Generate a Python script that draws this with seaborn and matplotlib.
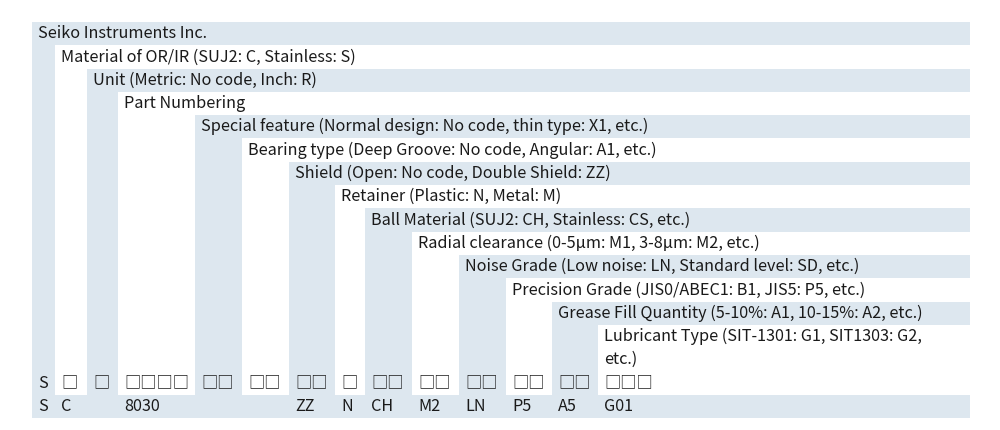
import numpy as np
import matplotlib
matplotlib.use("Agg")
import matplotlib.pyplot as plt
import seaborn as sns

# column boundaries (pixel-like units)
edges = [0, 23, 55, 86, 163, 210, 257, 303, 333, 380, 427, 474, 520, 566, 938]

descriptions = [
    "Seiko Instruments Inc.",
    "Material of OR/IR (SUJ2: C, Stainless: S)",
    "Unit (Metric: No code, Inch: R)",
    "Part Numbering",
    "Special feature (Normal design: No code, thin type: X1, etc.)",
    "Bearing type (Deep Groove: No code, Angular: A1, etc.)",
    "Shield (Open: No code, Double Shield: ZZ)",
    "Retainer (Plastic: N, Metal: M)",
    "Ball Material (SUJ2: CH, Stainless: CS, etc.)",
    "Radial clearance (0-5\u03bcm: M1, 3-8\u03bcm: M2, etc.)",
    "Noise Grade (Low noise: LN, Standard level: SD, etc.)",
    "Precision Grade (JIS0/ABEC1: B1, JIS5: P5, etc.)",
    "Grease Fill Quantity (5-10%: A1, 10-15%: A2, etc.)",
    "Lubricant Type (SIT-1301: G1, SIT1303: G2,\netc.)",
]
symbols = ["S", "\u25a1", "\u25a1", "\u25a1\u25a1\u25a1\u25a1", "\u25a1\u25a1", "\u25a1\u25a1",
           "\u25a1\u25a1", "\u25a1", "\u25a1\u25a1", "\u25a1\u25a1", "\u25a1\u25a1", "\u25a1\u25a1",
           "\u25a1\u25a1", "\u25a1\u25a1\u25a1"]
example = ["S", "C", "", "8030", "", "", "ZZ", "N", "CH", "M2", "LN", "P5", "A5", "G01"]

n_cols = len(symbols)
n_rows = len(descriptions) + 3  # lubricant wraps, + symbol row + example row
width = edges[-1]

def shade(i):
    return 1 if i % 2 == 0 else 0

col_of = np.zeros(width, dtype=int)
for c in range(n_cols):
    col_of[edges[c]:edges[c + 1]] = c

grid = np.zeros((n_rows, width))
for r in range(n_rows):
    i = min(r, 13)
    for x in range(width):
        c = col_of[x]
        if r == n_rows - 1:
            grid[r, x] = 1
        elif r < n_rows - 2 and c >= i:
            grid[r, x] = shade(i)
        else:
            grid[r, x] = shade(c)

fig = plt.figure(figsize=(10, 4.3), dpi=100)
ax = fig.add_axes([0.032, 1 - 418 / 430, 0.938, 396 / 430])
cmap = matplotlib.colors.ListedColormap(["#ffffff", "#dde7ef"])
sns.heatmap(grid, cmap=cmap, cbar=False, ax=ax, vmin=0, vmax=1,
            xticklabels=False, yticklabels=False, rasterized=True)
ax.set_axis_off()

font = dict(fontsize=11.7, family="Noto Sans CJK JP", color="#1a1a1a", va="center", ha="left")
for i, txt in enumerate(descriptions):
    lines = txt.split("\n")
    for k, line in enumerate(lines):
        ax.text(edges[i] + 6, i + k + 0.5, line, **font)
for c in range(n_cols):
    ax.text(edges[c] + 6, n_rows - 2 + 0.5, symbols[c], **font)
    ax.text(edges[c] + 6, n_rows - 1 + 0.5, example[c], **font)

fig.savefig("out.png", dpi=100)
